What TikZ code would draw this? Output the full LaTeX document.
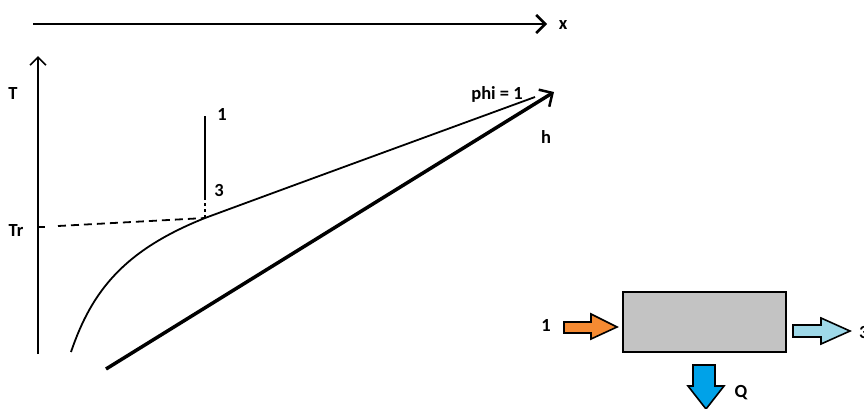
\documentclass[tikz,border=0pt]{standalone}
\usepackage{fontspec}
\setmainfont{Carlito}
\usetikzlibrary{arrows.meta}
\definecolor{boxgray}{HTML}{C3C3C3}
\definecolor{inorange}{HTML}{F58A32}
\definecolor{outblue}{HTML}{9ED8E8}
\definecolor{qblue}{HTML}{00A2E8}
\tikzset{
  lbl/.style={font=\fontsize{18.5}{20}\selectfont\bfseries, inner sep=0pt},
  barb/.style={-{Straight Barb[length=9pt,width=18pt,line width=2.5pt]}},
  blockarrow/.style={draw=black, line width=1.6pt, line join=miter},
}
\begin{document}
\begin{tikzpicture}[x=1pt,y=-1pt]
\useasboundingbox (0,0) rectangle (864,408);
% axes
\coordinate (xs) at (33,24);
\coordinate (xe) at (547,24);
\draw[line width=2.8pt, barb] (xs) -- (xe);
\node[lbl] (xl) at (563,25) {x};
\coordinate (ts) at (38,354);
\coordinate (te) at (38,56);
\draw[line width=1.8pt, -{Straight Barb[length=8pt,width=16pt,line width=1.6pt]}] (ts) -- (te);
\node[lbl] (tl) at (13,93) {T};
% Tr tick and dashed line
\coordinate (tr0) at (38,227);
\coordinate (tr1) at (45,227);
\draw[line width=1.5pt] (tr0) -- (tr1);
\node[lbl] (trl) at (16,230) {Tr};
\coordinate (d0) at (58,226);
\coordinate (p3) at (205,218);
\draw[line width=1.8pt, dash pattern=on 8pt off 5pt] (d0) -- (p3);
% vertical line 1-3
\coordinate (v1) at (205,116);
\coordinate (v3) at (205,197);
\draw[line width=1.8pt] (v1) -- (v3);
\draw[line width=1.8pt, dash pattern=on 3pt off 3pt] (v3) -- (p3);
\node[lbl] (l1) at (222,114) {1};
\node[lbl] (l3) at (219,190) {3};
% saturation curve
\coordinate (c0) at (71,352);
\coordinate (c1) at (535,97);
\draw[line width=1.8pt] (c0) .. controls (92,290) and (125,250) .. (p3)
  .. controls (300,183) .. (c1);
% thick h line
\coordinate (h0) at (106,369);
\coordinate (h1) at (554,92);
\draw[line width=3.5pt, -{Straight Barb[length=10pt,width=20pt,line width=2.5pt]}] (h0) -- (h1);
\node[lbl] (phil) at (497,94) {phi = 1};
\node[lbl] (hl) at (546,137) {h};
% process box
\node[draw=black, line width=2pt, fill=boxgray, minimum width=163pt, minimum height=60pt, inner sep=0pt] (box) at (704.5,322) {};
% inlet arrow (orange)
\filldraw[blockarrow, fill=inorange] (564,322) -- (591,322) -- (591,314) -- (617,327) -- (591,339) -- (591,333) -- (564,333) -- cycle;
\node[lbl] (in1) at (546,325) {1};
% outlet arrow (light blue)
\filldraw[blockarrow, fill=outblue] (793,325) -- (821,325) -- (821,318) -- (850,331) -- (821,344) -- (821,337) -- (793,337) -- cycle;
\node[lbl, anchor=west] (out3) at (859,332) {3};
% heat arrow (blue)
\filldraw[blockarrow, fill=qblue] (693,365) -- (715,365) -- (715,386) -- (724,386) -- (706,409) -- (688,386) -- (693,386) -- cycle;
\node[lbl] (ql) at (741,393) {Q};
\end{tikzpicture}
\end{document}
